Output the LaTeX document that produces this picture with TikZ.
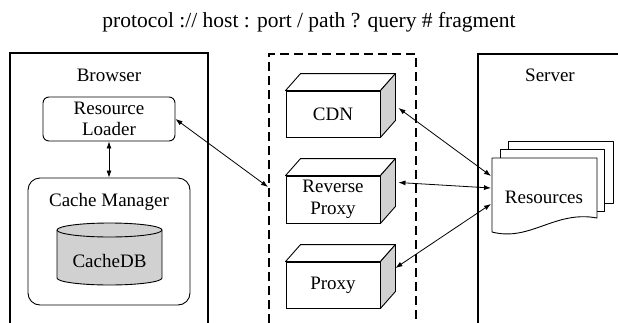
\documentclass[tikz,border=0pt]{standalone}
\usepackage{fontspec}
\setmainfont{Liberation Serif}
\usetikzlibrary{arrows.meta}
\definecolor{shade}{gray}{0.82}

% top and side faces of a box node drawn as a cube
\newcommand\cubefaces[1]{%
  \draw[face, fill=white] (#1.north west) -- ([shift={(15,-17)}]#1.north west)
    -- ([shift={(15,-17)}]#1.north east) -- (#1.north east) -- cycle;
  \draw[face, fill=shade] (#1.north east) -- ([shift={(15,-17)}]#1.north east)
    -- ([shift={(15,-17)}]#1.south east) -- (#1.south east) -- cycle;}

\begin{document}
\begin{tikzpicture}[x=1pt,y=-1pt,
  lbl/.style={font=\fontsize{19}{21.5}\selectfont, inner sep=0pt, align=center},
  frame/.style={line width=1.8pt},
  dashframe/.style={line width=1.8pt, dash pattern=on 9pt off 5pt},
  box/.style={draw, line width=0.9pt, fill=white, inner sep=0pt},
  face/.style={draw, line width=0.9pt, line join=round},
  link/.style={{Latex[length=7pt,width=5pt]}-{Latex[length=7pt,width=5pt]}, line width=0.8pt}
]
\useasboundingbox (0,0) rectangle (618,322);

% URL scheme
\node[font=\fontsize{21.5}{24}\selectfont, inner sep=0pt] (url) at (309,22)
  {protocol :// host : port / path ? query \# fragment};

% Browser side
\draw[frame] (10,323) -- (10,53) -- (208,53) -- (208,323);
\node[lbl] (browser) at (109,75) {Browser};
\node[box, lbl, rounded corners=6pt, minimum width=132pt, minimum height=44pt]
  (loader) at (109,119) {Resource\\Loader};
\node[box, rounded corners=12pt, minimum width=162pt, minimum height=127pt]
  (cachemgr) at (109,241.5) {};
\node[lbl] (cmlabel) at (109,202) {Cache Manager};
\draw[face, fill=shade] (57,230) -- (57,278)
  arc[start angle=180, end angle=360, x radius=52.5pt, y radius=7pt] -- (162,230);
\draw[face, fill=shade] (109.5,230) ellipse [x radius=52.5pt, y radius=7pt];
\node[lbl] (cachedb) at (109.5,261) {CacheDB};

% Intermediaries
\draw[dashframe] (269,323) -- (269,54) -- (416,54) -- (416,323);
\coordinate (dashL) at (268,187);
\node[box, lbl, minimum width=94pt, minimum height=46pt] (cdn) at (333,114) {CDN};
\cubefaces{cdn}
\node[box, lbl, minimum width=94pt, minimum height=47pt] (rproxy) at (333,199.5) {Reverse\\Proxy};
\cubefaces{rproxy}
\node[box, lbl, minimum width=94pt, minimum height=46pt] (proxy) at (333,285) {Proxy};
\cubefaces{proxy}

% Server side
\draw[frame] (478,323) -- (478,54) -- (619,54);
\node[lbl] (server) at (550,75) {Server};
\draw[face, fill=white] (508,141) rectangle (613,203);
\draw[face, fill=white] (500,149) rectangle (604,211);
\draw[face, fill=white] (492,158) -- (597,158) -- (597,218)
  .. controls (555,210) and (530,242) .. (492,232) -- cycle;
\node[lbl] (res) at (544,197) {Resources};
\coordinate (resA) at (491,176);
\coordinate (resB) at (491,188);
\coordinate (resC) at (491,204);

% Connections
\draw[link] (loader.south) -- (cachemgr.north);
\draw[link] (loader.east) -- (dashL);
\draw[link] ([shift={(18,-6)}]cdn.east) -- (resA);
\draw[link] ([shift={(18,-17)}]rproxy.east) -- (resB);
\draw[link] ([shift={(15,-17)}]proxy.east) -- (resC);
\end{tikzpicture}
\end{document}
